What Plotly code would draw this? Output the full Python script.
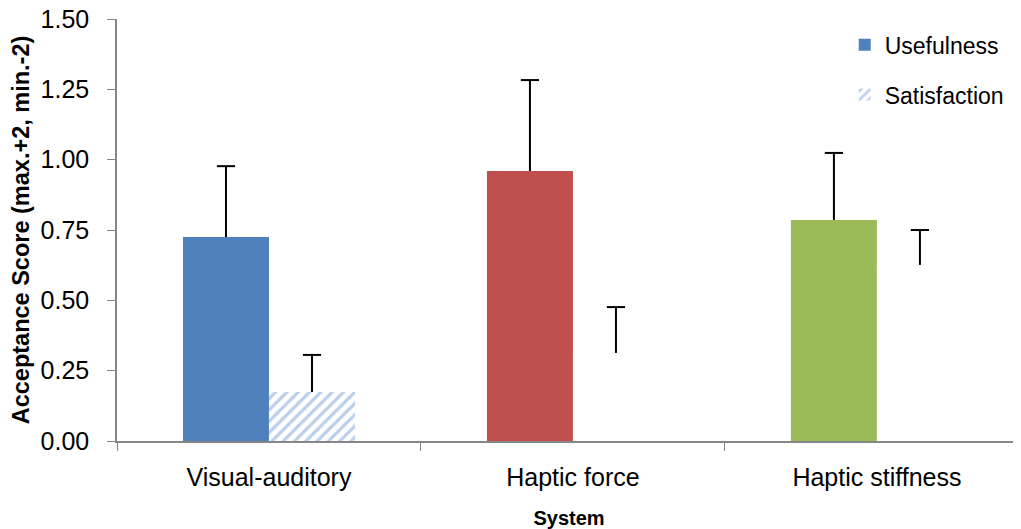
import plotly.graph_objects as go

categories = ["Visual-auditory", "Haptic force", "Haptic stiffness"]
usefulness = [0.725, 0.96, 0.786]
usefulness_err = [0.252, 0.323, 0.238]
satisfaction = [0.174, 0.313, 0.626]
satisfaction_err = [0.132, 0.163, 0.124]

use_colors = ["#4F81BD", "#C0504D", "#9BBB59"]
sat_fg = ["#7A9FD3", "rgba(0,0,0,0)", "rgba(0,0,0,0)"]

font = "Liberation Sans"
gap = 0.434

fig = go.Figure()
fig.add_trace(go.Bar(
    name="Usefulness", x=categories, y=usefulness, legendgroup="u",
    marker=dict(color=use_colors, line=dict(width=0)),
    error_y=dict(type="data", array=usefulness_err, arrayminus=[0, 0, 0],
                 symmetric=False, color="black", thickness=2, width=0),
))
fig.add_trace(go.Bar(
    name="Satisfaction", x=categories, y=satisfaction, legendgroup="s",
    marker=dict(color="white", line=dict(width=0),
                pattern=dict(shape="/", fgcolor=sat_fg, bgcolor="white",
                             size=8, solidity=0.4, fillmode="overlay")),
    error_y=dict(type="data", array=satisfaction_err, arrayminus=[0, 0, 0],
                 symmetric=False, color="black", thickness=2, width=0),
))
# top caps of the (plus-only) error bars
for vals, errs in ((usefulness, usefulness_err), (satisfaction, satisfaction_err)):
    fig.add_trace(go.Scatter(
        x=categories, y=[v + e for v, e in zip(vals, errs)], mode="markers",
        marker=dict(symbol="line-ew", size=13, line=dict(width=2, color="black")),
        showlegend=False, hoverinfo="skip", cliponaxis=False,
    ))

fig.update_layout(
    width=1013, height=521,
    margin=dict(l=109, r=0, t=11, b=88, autoexpand=False),
    plot_bgcolor="white", paper_bgcolor="white",
    barmode="group", bargap=gap, bargroupgap=0,
    scattermode="group", scattergap=gap,
    font=dict(family=font, size=25, color="black"),
    showlegend=True,
    legend=dict(x=0.805, y=0.99, xanchor="left", yanchor="top",
                font=dict(size=23), tracegroupgap=17, traceorder="grouped",
                bgcolor="rgba(0,0,0,0)", itemwidth=30),
)
fig.update_xaxes(
    range=[-0.5, 2.474],
    showline=True, linecolor="#868686", linewidth=1.5,
    ticks="outside", tickson="boundaries", ticklen=8, tickcolor="#868686",
    ticklabelstandoff=13,
    showgrid=False, automargin=False,
    title=dict(text="<b>System</b>", font=dict(size=20), standoff=21),
)
fig.update_yaxes(
    range=[0, 1.5001], tickvals=[0, 0.25, 0.5, 0.75, 1.0, 1.25, 1.5],
    tickformat=".2f", ticklabeloverflow="allow",
    showline=True, linecolor="#868686", linewidth=1.5,
    ticks="outside", ticklen=8, tickcolor="#868686",
    ticklabelstandoff=13,
    showgrid=False, zeroline=False, automargin=False,
    title=dict(text="<b>Acceptance Score (max.+2, min.-2)</b>", font=dict(size=23.5), standoff=4),
)

fig.write_html("out.html")
